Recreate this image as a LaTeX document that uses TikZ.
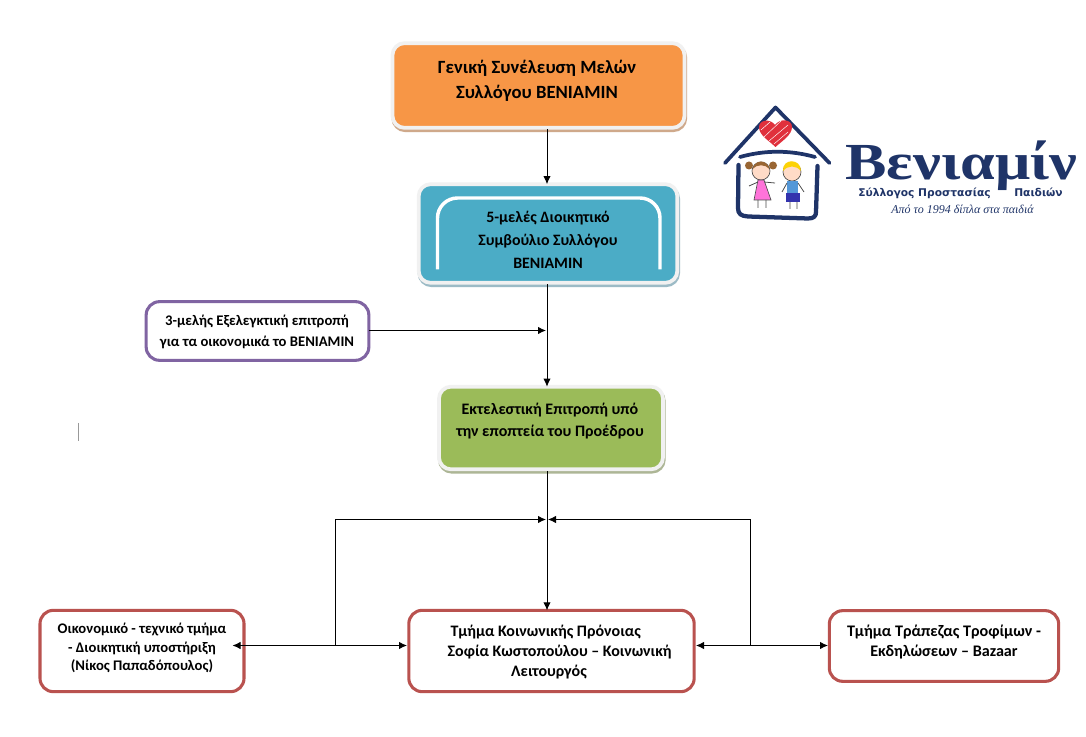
\documentclass[tikz,border=0pt]{standalone}
\usepackage{fontspec}
\usepackage{graphicx}
\setmainfont{Carlito}
\newfontfamily\logoserif{Liberation Serif}
\newfontfamily\logosans{DejaVu Sans}
\usetikzlibrary{arrows.meta,calc}
\definecolor{navy}{HTML}{1F3468}
\definecolor{orangebox}{HTML}{F79646}
\definecolor{tealbox}{HTML}{4BACC6}
\definecolor{greenbox}{HTML}{9BBB59}
\definecolor{purpleline}{HTML}{8064A2}
\definecolor{redline}{HTML}{B9524F}
\definecolor{rim}{HTML}{F1F1F1}
\definecolor{orangeshade}{HTML}{CFA98B}
\definecolor{tealshade}{HTML}{9CBBC6}
\definecolor{greenshade}{HTML}{ADB696}
\definecolor{heartred}{HTML}{E0303C}
\tikzset{
  x=0.75pt,y=-0.75pt,
  box/.style={rectangle,rounded corners=9pt,outer sep=0pt,inner sep=0pt},
  glossy/.style n args={2}{box,fill=#1,draw=rim,line width=2.8pt,
     preaction={draw=#2,fill=#2,line width=2.8pt,transform canvas={shift={(0.6pt,-1.8pt)}}}},
  plainbox/.style={box,fill=white,draw=#1,line width=2.3pt,rounded corners=10pt},
  txt/.style={inner sep=0pt,outer sep=0pt,align=center,text=black,font=\bfseries},
  link/.style={draw=black,line width=0.65pt},
  flow/.style={link,-{Latex[length=6pt,width=5.5pt]}},
  twoway/.style={link,{Latex[length=6pt,width=5.5pt]}-{Latex[length=6pt,width=5.5pt]}},
  roof/.style={draw=navy,line width=2.8pt,line cap=round,line join=round},
}
\begin{document}
\begin{tikzpicture}
\useasboundingbox (0,0) rectangle (1086,737);
\fill[white] (0,0) rectangle (1086,737);

% boxes
\node[glossy={orangebox}{orangeshade},minimum width=219pt,minimum height=63.5pt] (general) at (538.5,85.5) {};
\node[glossy={tealbox}{tealshade},minimum width=194pt,minimum height=74pt] (board) at (548,233.5) {};
\draw[white,line width=2.6pt,rounded corners=15pt] (437.5,269.5) -- (437.5,198) -- (660,198) -- (660,269.5);
\node[glossy={greenbox}{greenshade},minimum width=168pt,minimum height=62pt] (exec) at (551,428) {};
\node[plainbox=purpleline,minimum width=167pt,minimum height=44pt] (audit) at (257.5,331) {};
\node[plainbox=redline,minimum width=153pt,minimum height=61pt] (finance) at (142,651) {};
\node[plainbox=redline,minimum width=214pt,minimum height=61pt] (welfare) at (551.5,651) {};
\node[plainbox=redline,minimum width=172pt,minimum height=53pt] (food) at (944,646) {};

% box texts
\node[txt,font=\bfseries\fontsize{14pt}{19pt}\selectfont] (generalt) at (537,80.5) {Γενική Συνέλευση Μελών\\Συλλόγου BENIAMIN};
\node[txt,font=\bfseries\fontsize{11.9pt}{17pt}\selectfont] (boardt) at (548,240) {5-μελές Διοικητικό\\Συμβούλιο Συλλόγου\\BENIAMIN};
\node[txt,font=\bfseries\fontsize{12pt}{17pt}\selectfont] (exect) at (550,421) {Εκτελεστική Επιτροπή υπό\\την εποπτεία του Προέδρου};
\node[txt,font=\bfseries\fontsize{11pt}{15.75pt}\selectfont] (auditt) at (257,331.5) {3-μελής Εξελεγκτική επιτροπή\\για τα οικονομικά το BENIAMIN};
\node[txt,font=\bfseries\fontsize{11pt}{14pt}\selectfont] (financet) at (142,648) {Οικονομικό - τεχνικό τμήμα\\- Διοικητική υποστήριξη\\(Νίκος Παπαδόπουλος)};
\node[txt,font=\bfseries\fontsize{12pt}{15pt}\selectfont] (welfaret) at (549,652.5) {\hspace*{-5pt}Τμήμα Κοινωνικής Πρόνοιας\\\hspace*{16pt}Σοφία Κωστοπούλου – Κοινωνική\\Λειτουργός};
\node[txt,font=\bfseries\fontsize{12.1pt}{15pt}\selectfont] (foodt) at (944,642) {Τμήμα Τράπεζας Τροφίμων -\\Εκδηλώσεων – Bazaar};

% connector coordinates
\coordinate (spine) at (547,0);
\coordinate (auditjoin) at (546,330.5);
\coordinate (leftjoin) at (546,519.5);
\coordinate (rightjoin) at (548,519.5);
\coordinate (leftdrop) at (335.5,645.5);
\coordinate (rightdrop) at (750.5,645.5);
\coordinate (financetip) at (232.5,645.5);
\coordinate (welfareL) at (407,645.5);
\coordinate (welfareR) at (696,645.5);
\coordinate (foodL) at (828,645.5);

% connectors
\draw[flow] (spine |- general.south) ++(0,1.5) -- (spine |- board.north);
\draw[flow] (spine |- board.south) ++(0,1.5) -- (spine |- exec.north);
\draw[flow] (audit.east |- auditjoin) -- (auditjoin);
\draw[flow] (spine |- exec.south) ++(0,2) -- (spine |- welfare.north);
\draw[flow] (leftdrop) |- (leftjoin);
\draw[flow] (rightdrop) |- (rightjoin);
\draw[twoway] (financetip) -- (welfareL);
\draw[twoway] (welfareR) -- (foodL);

% stray mark
\draw[draw=gray!80,line width=0.6pt] (78.5,423) -- (78.5,441);

% logo: house
\draw[roof] (725,163) -- (775.5,107.5) -- (829.5,163);
\draw[roof] (740,157) .. controls (765,150) and (790,150) .. (815,157);
\draw[roof,line width=3.2pt] (738.5,165) -- (738,208) .. controls (738,214) and (741,216) .. (748,216.5)
   -- (808,218.5) .. controls (814,218.5) and (816,216) .. (816,212) -- (817.5,166);
% heart
\fill[heartred] (775.5,147) .. controls (768,140) and (759,135) .. (759,127)
   .. controls (759,120) and (770,118) .. (775,125)
   .. controls (780,118) and (792,119) .. (792,127)
   .. controls (792,135) and (782,141) .. (775.5,147) -- cycle;
\draw[white,line width=0.35pt] (764,137) -- (781,121) (769,141) -- (788,125) (761,130) -- (770,122) (774,144) -- (788,132);
% girl
\fill[brown!80!black] (749,165.5) circle (4) (773,165.5) circle (4);
\draw[black!70,line width=0.5pt,fill=pink!60!orange!40] (761,171) circle (9);
\fill[brown!80!black] (752.5,169) .. controls (755,159) and (767,159) .. (769.5,169) .. controls (765,164) and (757,164) .. (752.5,169) -- cycle;
\draw[black!70,line width=0.5pt,fill=pink!60!magenta] (758,180) -- (764,180) -- (771,200) -- (754,200) -- cycle;
\draw[black!70,line width=0.6pt] (758,182) -- (749,186) (764,182) -- (775,183) (758,200) -- (758,208) (766,200) -- (766,208);
% boy
\draw[black!70,line width=0.5pt,fill=pink!60!orange!40] (792,172) circle (9);
\fill[yellow!70!orange] (783,171) .. controls (782,158) and (801,158) .. (801,171) .. controls (796,165) and (788,165) .. (783,171) -- cycle;
\fill[cyan!60!blue!70] (787,181) rectangle (798,193);
\fill[blue!60!black!80] (786,193) rectangle (800,202);
\draw[black!70,line width=0.6pt] (787,183) -- (782,192) (798,183) -- (804,192) (790,202) -- (790,209) (797,202) -- (797,209);

% logo: words
\node[anchor=base west,inner sep=0pt,text=navy,font=\logoserif\bfseries\fontsize{44pt}{45pt}\selectfont] (logoname) at (845,180) {\resizebox{174pt}{29pt}{Βενιαμίν}};
\node[anchor=base west,inner sep=0pt,text=navy,font=\logosans\bfseries\fontsize{8pt}{10pt}\selectfont] (logosub) at (858,197) {Σύλλογος Προστασίας};
\node[anchor=base west,inner sep=0pt,text=navy,font=\logosans\bfseries\fontsize{8pt}{10pt}\selectfont] (logosubb) at (1014,197) {Παιδιών};
\node[anchor=base west,inner sep=0pt,text=navy,font=\logoserif\itshape\fontsize{9pt}{10pt}\selectfont] (logotag) at (891,214) {Από το 1994 δίπλα στα παιδιά};
\end{tikzpicture}
\end{document}
